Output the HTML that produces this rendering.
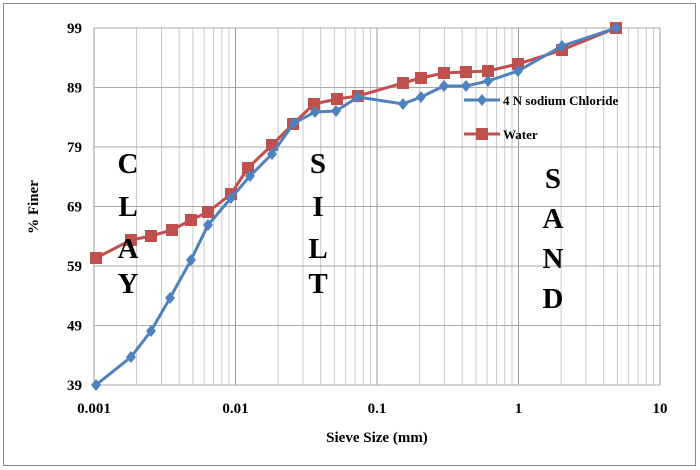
<!DOCTYPE html>
<html><head><style>
body{margin:0;background:#fff}
svg{display:block}
text{font-family:"Liberation Serif",serif;font-weight:bold}
</style></head><body>
<svg width="700" height="470" viewBox="0 0 700 470">
<rect x="3.5" y="3.5" width="692" height="462" fill="#fff" stroke="#888" stroke-width="1"/>
<g stroke="#c8c8c8" stroke-width="1" id="grid"></g>
<g id="lines"></g>
<g id="txt" font-size="15" fill="#000"></g>
</svg>
<script>
const ns="http://www.w3.org/2000/svg";
const L=94,D=141.5,T=28,B=385;
const X=v=>L+Math.log10(v/0.001)*D;
const Y=v=>T+(99-v)*(B-T)/60;
const g=document.getElementById('grid'),ln=document.getElementById('lines'),tx=document.getElementById('txt');
function el(p,tag,a,t){const e=document.createElementNS(ns,tag);for(const k in a)e.setAttribute(k,a[k]);if(t)e.textContent=t;p.appendChild(e);return e;}
for(let d=0.001;d<10;d*=10)for(let m=1;m<10;m++){const x=X(d*m);el(g,'line',{x1:x,x2:x,y1:T,y2:B,stroke:m==1?'#999':'#c8c8c8'});}
el(g,'line',{x1:X(10),x2:X(10),y1:T,y2:B,stroke:'#999'});
for(let v=39;v<=99;v+=10){const y=Y(v);el(g,'line',{x1:L,x2:X(10),y1:y,y2:y,stroke:'#aaa'});el(tx,'text',{x:82,y:y+5,'text-anchor':'end'},v);}
const xl=[['0.001',0.001],['0.01',0.01],['0.1',0.1],['1',1],['10',10]];
xl.forEach(([s,v])=>el(tx,'text',{x:X(v),y:413,'text-anchor':'middle'},s));
el(tx,'text',{x:377,y:442,'text-anchor':'middle'},'Sieve Size (mm)');
el(tx,'text',{x:0,y:0,'text-anchor':'middle',transform:'translate(38,207) rotate(-90)'},'% Finer');
const blue=[[96,385],[131,357],[151,331],[170,298],[191,260],[208,225],[231,198],[250,176],[272,154],[294,123],[315,112],[336,111],[358,97],[403,104],[421,97],[444,86],[466,86],[488,81],[518,71],[562,46],[616,28]];
const red=[[96,258],[131,240],[151,236],[172,230],[191,220],[208,212],[231,194],[248,168],[272,145],[293,124],[314,104],[337,99],[358,96],[403,83],[421,78],[444,73],[466,72],[488,71],[518,64],[562,50],[616,28]];
el(ln,'polyline',{points:red.join(' '),fill:'none',stroke:'#c0504d','stroke-width':3});
red.forEach(([x,y])=>el(ln,'rect',{x:x-6,y:y-6,width:12,height:12,fill:'#c0504d'}));
el(ln,'polyline',{points:blue.join(' '),fill:'none',stroke:'#4f81bd','stroke-width':3});
blue.forEach(([x,y])=>el(ln,'polygon',{points:`${x},${y-6} ${x+5},${y} ${x},${y+6} ${x-5},${y}`,fill:'#4f81bd'}));
el(ln,'line',{x1:464,x2:500,y1:100,y2:100,stroke:'#4f81bd','stroke-width':3});
el(ln,'polygon',{points:'482,94 487,100 482,106 477,100',fill:'#4f81bd'});
el(ln,'line',{x1:464,x2:500,y1:134,y2:134,stroke:'#c0504d','stroke-width':3});
el(ln,'rect',{x:476,y:128,width:12,height:12,fill:'#c0504d'});
el(tx,'text',{x:503,y:105,'font-size':'13'},'4 N sodium Chloride');
el(tx,'text',{x:503,y:139,'font-size':'13'},'Water');
const big=(s,x,ys)=>s.split('').forEach((c,i)=>el(tx,'text',{x:x,y:ys[i],'font-size':'29','text-anchor':'middle'},c));
big('CLAY',128,[173,216,258,293]);
big('SILT',318,[173,216,258,293]);
big('SAND',553,[188,228,268,308]);
</script>
</body></html>
